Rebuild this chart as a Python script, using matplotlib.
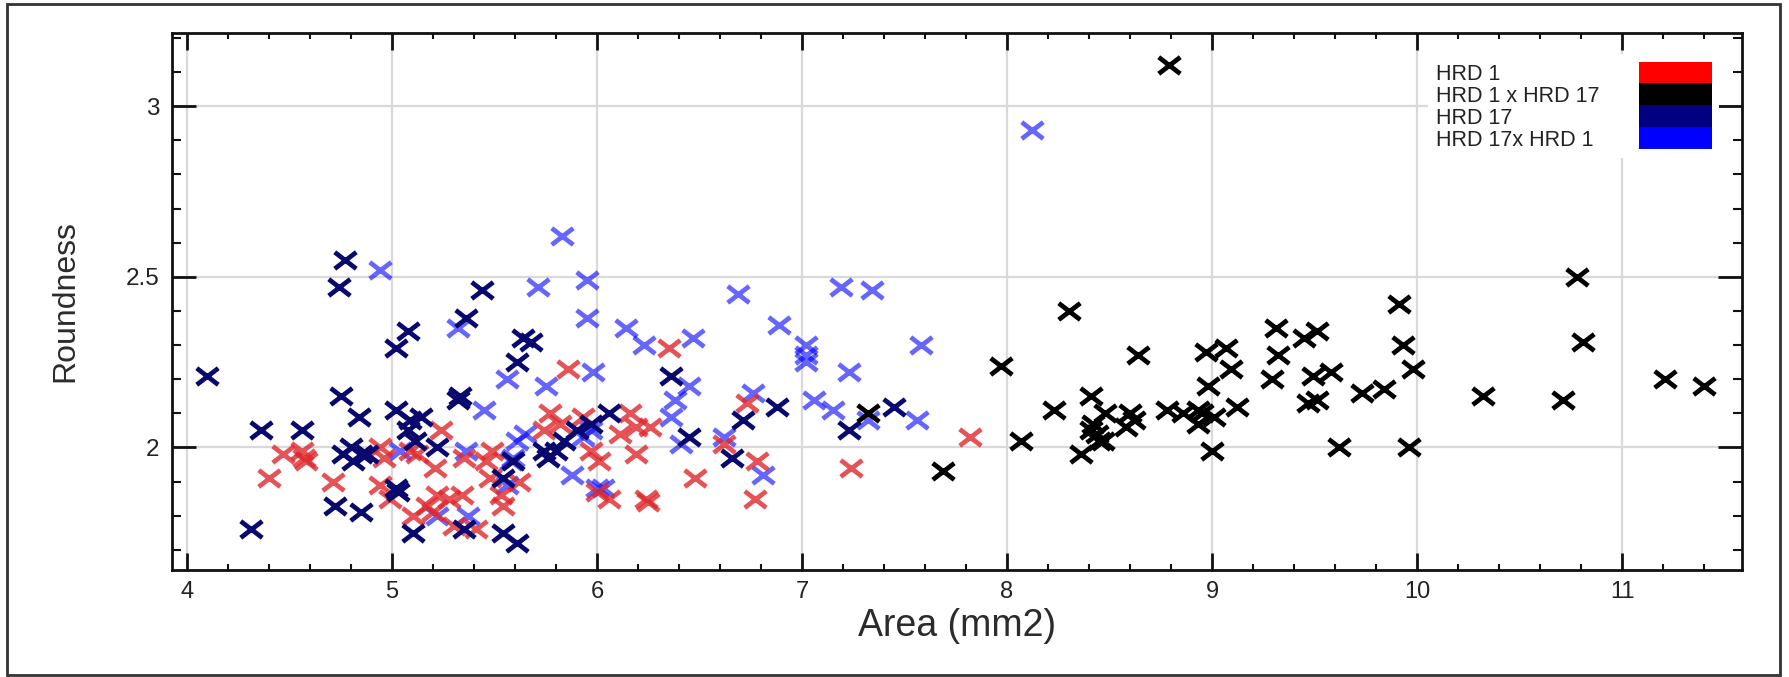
import matplotlib
matplotlib.use('Agg')
import matplotlib.pyplot as plt
from matplotlib.patches import Patch, Rectangle
from matplotlib.path import Path
from matplotlib.ticker import MultipleLocator

plt.rcParams['font.family'] = ['Liberation Sans', 'DejaVu Sans']

# HRD 1 (red)
hrd1_area = [5.86, 4.40, 4.47, 4.56, 4.58, 4.57, 4.71, 4.94, 4.96, 4.94,
             4.99, 5.09, 5.12, 5.24, 5.21, 5.22, 5.28, 5.17, 5.10, 5.20,
             5.34, 5.30, 5.41, 5.35, 5.46, 5.48, 5.53, 5.54, 5.62, 5.77,
             5.82, 5.74, 5.93, 5.97, 6.00, 5.49, 6.35, 6.16, 6.26, 6.19,
             6.11, 6.01, 6.19, 6.48, 6.06, 6.24, 6.25, 6.73, 6.62, 6.78,
             6.77, 7.24, 7.82]
hrd1_round = [2.23, 1.91, 1.98, 1.99, 1.96, 1.97, 1.90, 2.00, 1.97, 1.89,
              1.85, 1.99, 1.98, 2.05, 1.94, 1.86, 1.85, 1.83, 1.80, 1.81,
              1.86, 1.77, 1.76, 1.97, 1.96, 1.91, 1.86, 1.83, 1.90, 2.10,
              2.07, 2.05, 2.09, 1.99, 1.87, 1.99, 2.29, 2.10, 2.06, 2.06,
              2.04, 1.96, 1.98, 1.91, 1.85, 1.85, 1.84, 2.13, 2.01, 1.96,
              1.85, 1.94, 2.03]

# HRD 1 x HRD 17 (black)
cross1_area = [7.32, 7.69, 7.97, 8.30, 8.07, 8.23, 8.41, 8.64, 8.36, 8.41,
               8.44, 8.42, 8.48, 8.47, 8.45, 8.60, 8.62, 8.58, 8.78, 8.86,
               8.93, 8.95, 8.93, 9.01, 8.97, 9.07, 9.09, 8.98, 9.00, 9.12,
               9.31, 9.32, 9.29, 9.45, 9.51, 9.49, 9.58, 9.47, 9.51, 9.62,
               9.91, 9.93, 9.98, 9.96, 9.73, 9.84, 10.32, 10.71, 10.78, 10.81,
               11.21, 11.40, 8.79]
cross1_round = [2.10, 1.93, 2.24, 2.40, 2.02, 2.11, 2.15, 2.27, 1.98, 2.05,
                2.04, 2.07, 2.10, 2.02, 2.02, 2.10, 2.08, 2.06, 2.11, 2.10,
                2.11, 2.10, 2.07, 2.09, 2.28, 2.29, 2.23, 2.18, 1.99, 2.12,
                2.35, 2.27, 2.20, 2.32, 2.34, 2.21, 2.22, 2.13, 2.14, 2.00,
                2.42, 2.30, 2.23, 2.00, 2.16, 2.17, 2.15, 2.14, 2.50, 2.31,
                2.20, 2.18, 3.12]

# HRD 17 (navy)
hrd17_area = [4.77, 4.74, 4.10, 5.02, 5.08, 5.44, 5.36, 5.64, 5.68, 5.61,
              4.36, 4.56, 4.75, 4.84, 4.80, 4.85, 4.81, 4.88, 4.76, 5.02,
              5.09, 5.14, 5.08, 5.11, 5.22, 5.02, 5.03, 4.72, 4.85, 4.31,
              5.10, 5.33, 5.32, 5.35, 5.54, 5.61, 5.54, 5.59, 5.76, 5.74,
              5.80, 5.84, 5.90, 5.97, 6.06, 6.36, 6.45, 6.71, 6.88, 6.66,
              7.23, 7.45]
hrd17_round = [2.55, 2.47, 2.21, 2.29, 2.34, 2.46, 2.38, 2.32, 2.31, 2.25,
               2.05, 2.05, 2.15, 2.09, 2.00, 1.98, 1.96, 1.98, 1.98, 2.11,
               2.08, 2.09, 2.05, 2.02, 2.00, 1.88, 1.87, 1.83, 1.81, 1.76,
               1.75, 2.15, 2.14, 1.76, 1.75, 1.72, 1.91, 1.96, 1.97, 1.99,
               1.99, 2.02, 2.05, 2.07, 2.10, 2.21, 2.03, 2.08, 2.12, 1.97,
               2.05, 2.12]

# HRD 17 x HRD 1 (blue)
cross17_area = [4.94, 5.71, 5.95, 5.95, 5.32, 5.56, 5.75, 5.98, 5.45, 5.61,
                5.65, 5.59, 5.04, 5.36, 5.88, 6.00, 5.22, 5.37, 5.56, 5.58,
                5.93, 6.14, 6.23, 6.69, 6.89, 7.02, 7.02, 7.02, 7.19, 7.34,
                7.58, 7.23, 6.47, 6.45, 6.38, 6.36, 6.41, 6.76, 7.06, 7.15,
                7.32, 7.56, 6.81, 6.62, 6.03, 5.97, 5.83, 8.12]
cross17_round = [2.52, 2.47, 2.49, 2.38, 2.35, 2.20, 2.18, 2.22, 2.11, 2.02,
                 2.04, 1.97, 1.99, 1.99, 1.92, 1.88, 1.80, 1.80, 1.89, 1.96,
                 2.03, 2.35, 2.30, 2.45, 2.36, 2.30, 2.27, 2.25, 2.47, 2.46,
                 2.30, 2.22, 2.32, 2.18, 2.14, 2.09, 2.01, 2.16, 2.14, 2.11,
                 2.08, 2.08, 1.92, 2.03, 1.88, 2.05, 2.62, 2.93]

labels = ['HRD 1', 'HRD 1 x HRD 17', 'HRD 17', 'HRD 17x HRD 1']
legend_colors = ['#ff0000', '#000000', '#000080', '#0000ff']

fig = plt.figure(figsize=(17.9, 6.77), dpi=100)
ax = fig.add_axes([0.0961, 0.158, 0.8771, 0.7932])

# a slightly wide "x" like the original
wide_x = Path([(-1.3, -1), (1.3, 1), (-1.3, 1), (1.3, -1)],
              [Path.MOVETO, Path.LINETO, Path.MOVETO, Path.LINETO])
ms = 15.5 ** 2
mew = 3.4
# draw order: light blue, red, navy, black
ax.scatter(cross17_area, cross17_round, marker=wide_x, s=ms, linewidths=mew,
           color='#0000ff', alpha=0.6, zorder=3)
ax.scatter(hrd1_area, hrd1_round, marker=wide_x, s=ms, linewidths=mew,
           color='#e0282d', alpha=0.8, zorder=3)
ax.scatter(hrd17_area, hrd17_round, marker=wide_x, s=ms, linewidths=mew,
           color='#08086e', zorder=4)
ax.scatter(cross1_area, cross1_round, marker=wide_x, s=ms, linewidths=mew,
           color='#000000', zorder=4)

ax.set_xlim(3.927, 11.585)
ax.set_ylim(1.641, 3.214)
ax.xaxis.set_major_locator(MultipleLocator(1))
ax.xaxis.set_minor_locator(MultipleLocator(0.2))
ax.yaxis.set_minor_locator(MultipleLocator(0.1))
ax.set_yticks([2, 2.5, 3])
ax.set_yticklabels(['2', '2.5', '3'])

ax.grid(True, which='major', color='#d9d9d9', linewidth=1.6, zorder=0)
ax.set_axisbelow(True)

for sp in ax.spines.values():
    sp.set_linewidth(2.0)
    sp.set_color('#111111')

ax.tick_params(axis='both', which='both', direction='in', top=True, right=True,
               colors='#111111', labelcolor='#222222')
ax.tick_params(axis='x', which='major', length=12, width=2, pad=8, labelsize=17)
ax.tick_params(axis='x', which='minor', length=4.5, width=1.5)
ax.tick_params(axis='y', which='major', length=17.5, width=2, pad=9, labelsize=17.5)
ax.tick_params(axis='y', which='minor', length=6.5, width=1.5)

ax.set_xlabel('Area (mm2)', fontsize=27, color='#2b2b2b')
ax.set_ylabel('Roundness', fontsize=23, color='#2b2b2b')
ax.xaxis.set_label_coords(0.5, -0.070)
ax.yaxis.set_label_coords(-0.0586, 0.5)

handles = [Patch(facecolor=c, edgecolor='none') for c in legend_colors]
leg = ax.legend(handles, labels, loc='upper right', bbox_to_anchor=(0.9854, 0.9609),
                borderaxespad=0, borderpad=0.35, markerfirst=False, labelspacing=-0.07,
                handlelength=3.35, handleheight=1.21, handletextpad=1.86,
                fontsize=15.5, frameon=True, fancybox=False, framealpha=1)
leg.get_frame().set_facecolor('white')
leg.get_frame().set_edgecolor('none')
for t in leg.get_texts():
    t.set_color('#222222')

# left-align the legend labels (markerfirst=False right-aligns them)
fig.canvas.draw()
renderer = fig.canvas.get_renderer()
widths = [t.get_window_extent(renderer).width for t in leg.get_texts()]
maxw = max(widths)
for col in leg._legend_handle_box.get_children():
    for row in col.get_children():
        w = row.get_children()[0]._text.get_window_extent(renderer).width
        row.sep = row.sep + (maxw - w) * 72.0 / fig.dpi

# outer frame of the picture
fig.patches.append(Rectangle((0.0039, 0.003), 0.9905, 0.991, transform=fig.transFigure,
                             fill=False, edgecolor='#333333', linewidth=2))

fig.savefig('out.png', dpi=100)
